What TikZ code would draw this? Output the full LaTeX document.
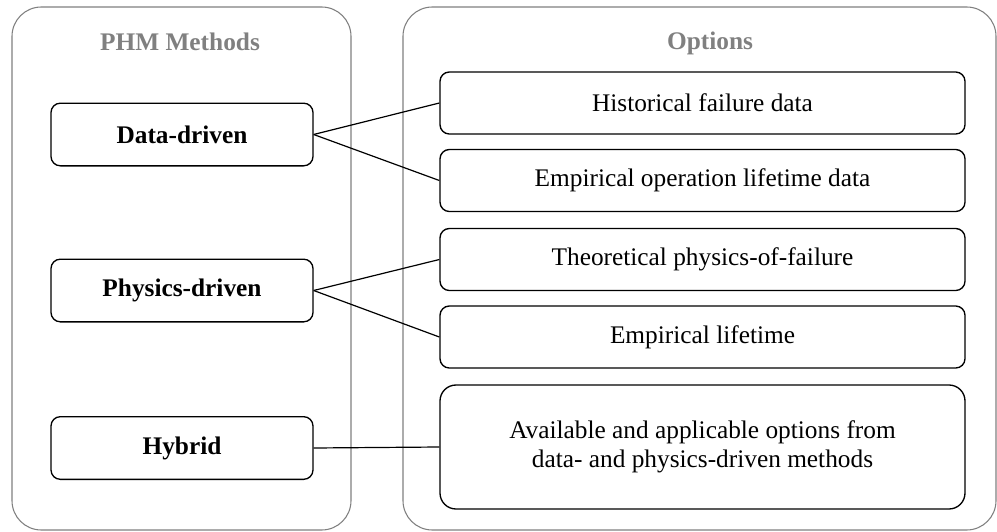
\documentclass[tikz,border=0pt]{standalone}
\usepackage{fontspec}
\setmainfont{Liberation Serif}
\begin{document}
\begin{tikzpicture}[x=0.75pt,y=-0.75pt,
  container/.style={draw=black!50, line width=0.8pt, rounded corners=22pt, inner sep=0pt},
  title/.style={font=\fontsize{19}{22}\selectfont\bfseries, text=black!50},
  method/.style={draw=black, line width=1pt, rounded corners=7pt, minimum width=196.5pt, minimum height=47pt, inner sep=0pt, font=\fontsize{19}{22}\selectfont\bfseries},
  option/.style={draw=black, line width=1pt, rounded corners=7pt, minimum width=393.75pt, minimum height=46.5pt, inner sep=0pt, align=center, font=\fontsize{19}{22}\selectfont},
  link/.style={draw=black, line width=0.9pt}]
\useasboundingbox (0,0) rectangle (997,532);
\node[container, minimum width=254.25pt, minimum height=392.25pt] (leftC) at (181.5,268.5) {};
\node[container, minimum width=444.75pt, minimum height=392.25pt] (rightC) at (699.5,268.5) {};
\node[title] (t1) at (180,42) {PHM Methods};
\node[title] (t2) at (710,43) {Options};
\node[method] (dd) at (182,134.5) {Data-driven};
\node[method] (pd) at (182,290.5) {Physics-driven};
\node[method] (hy) at (182,448) {Hybrid};
\node[option] (o1) at (702.5,103) {Historical failure data};
\node[option] (o2) at (702.5,180.5) {Empirical operation lifetime data};
\node[option] (o3) at (702.5,259.5) {Theoretical physics-of-failure};
\node[option] (o4) at (702.5,337) {Empirical lifetime};
\node[option, minimum height=93pt, rounded corners=12pt, font=\fontsize{19}{22}\selectfont] (o5) at (702.5,447) {Available and applicable options from\\data- and physics-driven methods};
\draw[link] (dd.east) -- (o1.west);
\draw[link] (dd.east) -- (o2.west);
\draw[link] (pd.east) -- (o3.west);
\draw[link] (pd.east) -- (o4.west);
\draw[link] (hy.east) -- (o5.west);
\end{tikzpicture}
\end{document}
